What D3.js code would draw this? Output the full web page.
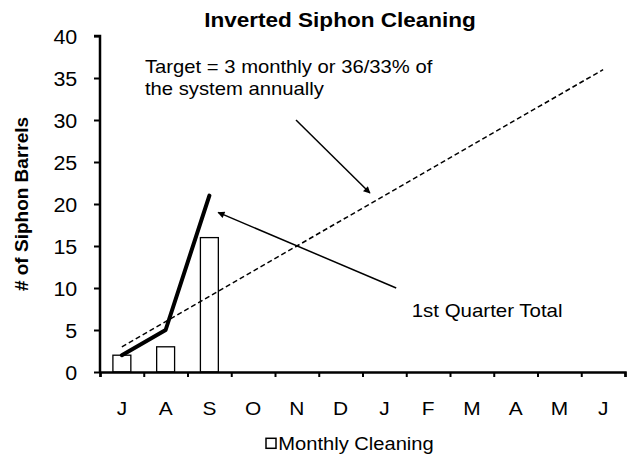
<!DOCTYPE html>
<html>
<head>
    <meta charset="utf-8">
    <title>Inverted Siphon Cleaning</title>
    <style type="text/css">
        body{ margin:0; background:#fff; }
        svg text{ font-family: Arial, "Liberation Sans", sans-serif; fill:#000; }
    </style>
    <script src="https://cdn.jsdelivr.net/npm/d3@7"></script>
</head>
<body>
<div id="chart"></div>

<script type="text/javascript">

// chart values
var months     = ["J","A","S","O","N","D","J","F","M","A","M","J"];
var monthly    = [2, 3, 16];
var cumulative = [2, 5, 21];
var target     = [3, 6, 9, 12, 15, 18, 21, 24, 27, 30, 33, 36];
var yTicks     = [0, 5, 10, 15, 20, 25, 30, 35, 40];

var width  = 635,
    height = 455,
    margin = {top:36, right:10, bottom:83, left:100},
    sx     = 1.1;   // text in the picture is a little wide

var svg = d3.select('#chart')
    .append('svg')
    .attr('width', width)
    .attr('height', height);

var x = d3.scaleBand()
    .domain(d3.range(months.length))
    .range([margin.left, 625])
    .paddingInner(0.59)
    .paddingOuter(0.295);

// continuous position along months, used for lines and notes
var xl = d3.scaleLinear()
    .domain([0, months.length])
    .range([margin.left, 625]);

var y = d3.scaleLinear()
    .domain([0, 40])
    .range([height - margin.bottom, margin.top]);

function cx(i){ return xl(i + 0.5) }

function label(px, py, str, size, anchor){
    return svg.append('text')
        .attr('transform', 'translate(' + px + ',' + py + ') scale(' + sx + ',1)')
        .attr('text-anchor', anchor || 'start')
        .style('font-size', size + 'px')
        .text(str);
}

svg.append('defs').append('marker')
    .attr('id', 'arrow')
    .attr('viewBox', '0 0 10 10')
    .attr('refX', 9)
    .attr('refY', 5)
    .attr('markerWidth', 10)
    .attr('markerHeight', 7)
    .attr('markerUnits', 'userSpaceOnUse')
    .attr('orient', 'auto')
  .append('path')
    .attr('d', 'M0,0 L10,5 L0,10 z')
    .attr('fill', '#000');

// bars
svg.selectAll('rect.bar')
    .data(monthly)
    .enter().append('rect')
    .attr('class', 'bar')
    .attr('x', function(d, i){ return x(i) })
    .attr('y', function(d){ return y(d) })
    .attr('width', x.bandwidth())
    .attr('height', function(d){ return y(0) - y(d) })
    .attr('fill', '#fff')
    .attr('stroke', '#000')
    .attr('stroke-width', 1.3);

// target line
svg.append('path')
    .datum(target)
    .attr('fill', 'none')
    .attr('stroke', '#000')
    .attr('stroke-width', 1.5)
    .attr('stroke-dasharray', '5,3')
    .attr('d', d3.line().x(function(d, i){ return cx(i) }).y(function(d){ return y(d) }));

// cumulative line
svg.append('path')
    .datum(cumulative)
    .attr('fill', 'none')
    .attr('stroke', '#000')
    .attr('stroke-width', 4)
    .attr('stroke-linecap', 'round')
    .attr('stroke-linejoin', 'round')
    .attr('d', d3.line().x(function(d, i){ return cx(i) }).y(function(d){ return y(d) }));

// axes
var yAxis = svg.append('g')
    .attr('transform', 'translate(' + margin.left + ',0)')
    .call(d3.axisLeft(y).tickValues(yTicks).tickSize(6));

var xAxis = svg.append('g')
    .attr('transform', 'translate(0,' + y(0) + ')')
    .call(d3.axisBottom(xl).tickValues(d3.range(months.length + 1)).tickSize(5).tickFormat(''));

[yAxis, xAxis].forEach(function(g){
    g.select('.domain').attr('stroke-width', 2.5).attr('stroke', '#000');
    g.selectAll('.tick line').attr('stroke-width', 2).attr('stroke', '#000');
});
yAxis.select('.domain').attr('d', 'M-6,' + y(40) + 'H0V' + y(0));
yAxis.selectAll('.tick text')
    .attr('x', null)
    .attr('dy', null)
    .attr('transform', 'translate(-22.7,7.5) scale(' + sx + ',1)')
    .attr('fill', '#000')
    .style('font-size', '19.5px')
    .style('font-family', 'Arial, "Liberation Sans", sans-serif');

months.forEach(function(m, i){
    label(cx(i), 415, m, 19, 'middle');
});

// title
label(340, 26.5, 'Inverted Siphon Cleaning', 20.5, 'middle')
    .style('font-weight', 'bold');

svg.append('text')
    .attr('transform', 'translate(28,' + y(20) + ') rotate(-90)')
    .attr('text-anchor', 'middle')
    .style('font-size', '19px')
    .style('font-weight', 'bold')
    .text('# of Siphon Barrels');

// notes
label(145, 72.7, 'Target = 3 monthly or 36/33% of', 18.4);
label(145, 95, 'the system annually', 18.4);

svg.append('line')
    .attr('x1', cx(3.98)).attr('y1', y(30))
    .attr('x2', cx(5.67)).attr('y2', y(21.3))
    .attr('stroke', '#000')
    .attr('stroke-width', 1.5)
    .attr('marker-end', 'url(#arrow)');

svg.append('line')
    .attr('x1', cx(6.27)).attr('y1', y(10))
    .attr('x2', cx(2.2)).attr('y2', y(19))
    .attr('stroke', '#000')
    .attr('stroke-width', 1.5)
    .attr('marker-end', 'url(#arrow)');

label(411.7, 317.3, '1st Quarter Total', 18.6);

// legend
svg.append('rect')
    .attr('x', 266).attr('y', 438.3)
    .attr('width', 10).attr('height', 10)
    .attr('fill', '#fff').attr('stroke', '#000').attr('stroke-width', 1.5);
label(278.3, 450, 'Monthly Cleaning', 18.3);

</script>
</body>
</html>
